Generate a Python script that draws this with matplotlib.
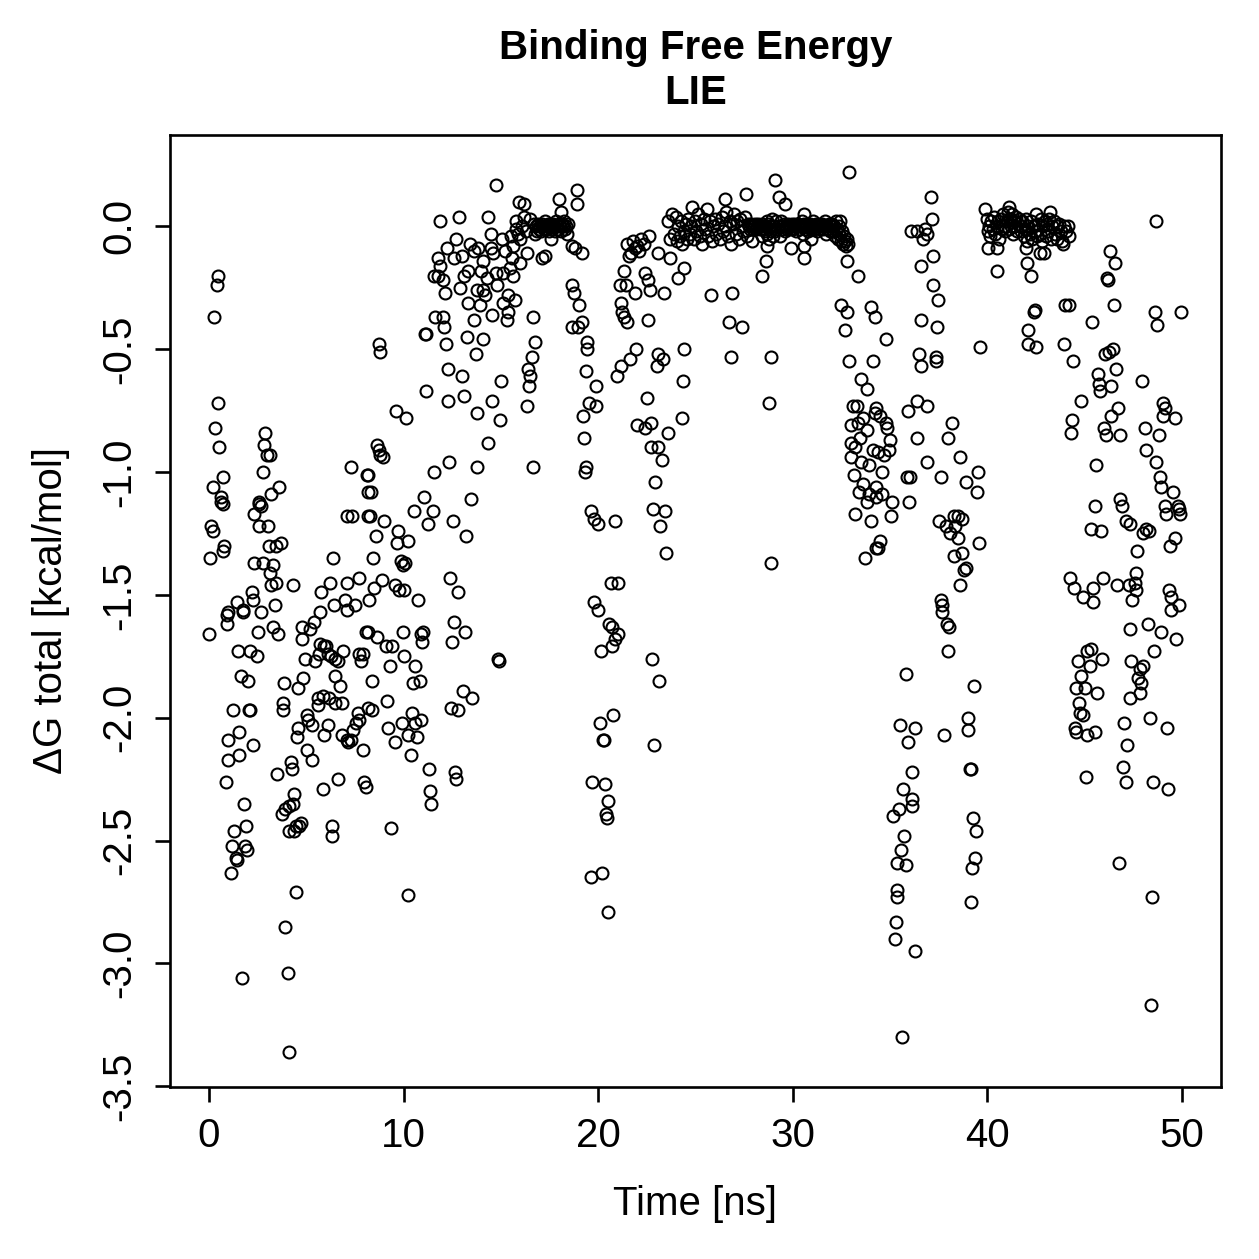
import matplotlib
matplotlib.use("Agg")
import matplotlib.pyplot as plt

plt.rcParams["font.family"] = ["Liberation Sans", "DejaVu Sans"]
plt.rcParams["axes.unicode_minus"] = False

# (time [ns], dG total [kcal/mol]), grouped by time window
seg_00_08 = [
    (0.45, -0.20), (0.4, -0.24), (0.25, -0.37), (0.45, -0.72), (0.3, -0.82), (0.5, -0.90),
    (0.7, -1.02), (0.2, -1.06), (0.6, -1.10), (0.6, -1.12), (0.7, -1.13), (0.1, -1.22),
    (0.2, -1.24), (0.8, -1.30), (0.75, -1.32), (0.05, -1.35),
    (2.9, -0.84), (2.85, -0.89), (3.0, -0.93), (3.15, -0.93), (2.8, -1.00), (3.6, -1.06),
    (3.2, -1.09), (2.55, -1.12), (2.6, -1.13), (2.7, -1.14), (2.3, -1.17), (2.6, -1.22),
    (3.05, -1.22), (3.45, -1.30), (3.7, -1.29), (3.1, -1.30),
    (7.3, -0.98), (8.1, -1.01), (7.1, -1.18), (7.35, -1.18), (8.2, -1.08), (8.2, -1.18),
    (6.4, -1.35), (2.3, -1.37), (2.8, -1.37), (3.3, -1.38), (3.15, -1.41), (4.3, -1.46),
    (6.2, -1.45), (5.75, -1.49), (7.1, -1.45), (7.7, -1.43), (7.0, -1.52), (7.5, -1.54),
    (5.7, -1.57), (1.45, -1.53), (1.0, -1.57), (1.75, -1.57), (2.2, -1.49), (2.25, -1.52),
    (3.2, -1.46), (3.45, -1.45), (3.4, -1.54), (2.7, -1.57),
    (0.95, -1.58), (1.75, -1.56), (0.0, -1.66), (0.95, -1.62), (2.5, -1.65), (3.3, -1.63),
    (3.55, -1.66), (4.8, -1.63), (5.2, -1.64), (4.8, -1.68), (5.4, -1.61), (6.45, -1.54),
    (7.1, -1.56), (1.5, -1.73), (2.1, -1.73), (2.45, -1.75), (1.65, -1.83), (2.0, -1.85),
    (3.85, -1.86), (4.6, -1.88), (4.85, -1.84), (4.95, -1.76), (5.45, -1.77), (5.65, -1.74),
    (5.9, -1.71), (6.0, -1.71), (6.1, -1.74), (6.25, -1.75), (6.5, -1.76), (6.65, -1.77),
    (6.9, -1.73), (7.7, -1.74), (7.9, -1.74), (7.8, -1.77), (6.5, -1.83), (6.75, -1.87),
    (6.5, -1.94), (6.85, -1.94), (5.6, -1.92), (5.85, -1.91), (6.15, -1.92), (5.6, -1.95),
    (3.8, -1.94), (3.8, -1.97), (1.25, -1.97), (2.05, -1.97), (2.1, -1.97), (5.05, -1.99),
    (5.1, -2.01), (5.3, -2.03), (6.1, -2.03), (4.6, -2.04), (4.55, -2.08), (5.9, -2.07),
    (6.85, -2.07), (7.1, -2.09), (7.3, -2.09), (7.4, -2.05), (7.55, -2.02), (7.7, -2.01),
    (7.65, -1.98), (7.15, -2.10), (7.9, -2.13), (1.55, -2.06), (1.0, -2.09), (2.25, -2.11),
    (1.55, -2.15), (1.0, -2.17), (5.05, -2.13), (5.3, -2.17), (3.5, -2.23), (4.2, -2.18),
    (4.25, -2.21), (5.85, -2.29), (6.65, -2.25), (7.95, -2.26), (8.05, -2.28), (0.9, -2.26),
    (1.8, -2.35), (4.35, -2.31), (4.1, -2.36), (3.9, -2.37), (3.75, -2.39), (4.3, -2.35),
    (1.3, -2.46), (1.9, -2.44), (1.2, -2.52), (1.85, -2.52), (1.95, -2.54), (1.4, -2.57),
    (1.45, -2.58), (1.15, -2.63), (4.45, -2.44), (4.35, -2.46), (4.65, -2.44), (4.75, -2.43),
    (4.1, -2.46), (6.3, -2.44), (6.35, -2.48), (4.5, -2.71), (3.9, -2.85), (1.7, -3.06),
    (4.05, -3.04), (4.1, -3.36), (8.05, -1.65), (8.15, -1.96), (5.7, -1.70),
]

seg_08_17 = [
    (14.75, 0.17), (15.95, 0.10), (16.2, 0.09), (11.85, 0.02), (12.85, 0.04), (14.35, 0.04),
    (16.2, 0.04), (15.8, 0.02), (16.1, 0.0), (14.5, -0.03), (15.05, -0.05), (15.5, -0.04),
    (15.8, -0.01), (13.4, -0.07), (12.25, -0.09), (13.0, -0.12), (13.85, -0.09), (14.5, -0.09),
    (14.6, -0.11), (14.1, -0.14), (11.75, -0.13), (11.85, -0.16), (11.75, -0.20), (11.55, -0.20),
    (12.05, -0.22), (12.15, -0.27), (13.3, -0.18), (12.9, -0.25), (13.8, -0.26), (14.1, -0.26),
    (14.2, -0.28), (13.3, -0.31), (13.95, -0.32), (14.75, -0.19), (15.1, -0.19), (15.45, -0.17),
    (15.6, -0.20), (15.35, -0.28), (15.75, -0.30), (15.1, -0.31), (15.35, -0.35), (15.3, -0.38),
    (14.55, -0.36), (13.6, -0.38), (16.0, -0.05), (16.35, -0.11), (15.55, -0.13), (11.6, -0.37),
    (12.05, -0.37), (12.1, -0.41), (16.65, -0.37), (11.1, -0.44), (11.15, -0.44), (12.2, -0.48),
    (13.25, -0.45), (14.1, -0.46), (13.7, -0.52), (16.75, -0.47), (16.6, -0.53), (16.4, -0.58),
    (16.5, -0.61), (16.45, -0.65), (16.35, -0.73), (8.75, -0.48), (8.8, -0.51), (12.3, -0.58),
    (13.0, -0.61), (11.15, -0.67), (12.3, -0.71), (13.1, -0.69), (15.0, -0.63), (14.55, -0.71),
    (13.75, -0.76), (14.95, -0.79), (9.6, -0.75), (10.15, -0.78), (14.35, -0.88), (8.65, -0.89),
    (8.75, -0.91), (8.8, -0.93), (8.95, -0.94), (12.35, -0.96), (11.55, -1.00), (13.8, -0.98),
    (16.65, -0.98), (8.2, -1.01), (8.35, -1.08), (11.05, -1.10), (13.45, -1.11), (10.55, -1.16),
    (11.5, -1.16), (11.25, -1.21), (12.55, -1.20), (13.2, -1.26), (8.3, -1.18), (9.0, -1.20),
    (8.6, -1.26), (9.7, -1.24), (9.65, -1.29), (10.25, -1.28), (8.45, -1.35), (9.85, -1.36),
    (9.95, -1.38), (10.1, -1.37), (12.4, -1.43), (12.8, -1.49), (8.9, -1.44), (8.5, -1.47),
    (9.55, -1.46), (9.75, -1.48), (10.05, -1.48), (10.75, -1.52), (8.25, -1.52),
    (12.6, -1.61), (13.15, -1.65), (12.5, -1.69), (8.2, -1.65), (8.65, -1.67), (9.95, -1.65),
    (10.9, -1.66), (11.0, -1.65), (10.95, -1.69), (9.1, -1.71), (9.4, -1.71), (10.05, -1.75),
    (9.3, -1.79), (10.6, -1.79), (8.4, -1.85), (10.5, -1.86), (10.85, -1.85), (14.85, -1.76),
    (14.9, -1.77), (9.15, -1.93), (8.4, -1.97), (13.05, -1.89), (13.5, -1.92), (12.45, -1.96),
    (12.8, -1.97), (10.45, -1.98), (9.9, -2.02), (9.2, -2.04), (10.6, -2.02), (10.9, -2.01),
    (10.25, -2.07), (10.7, -2.08), (9.55, -2.10), (10.4, -2.15), (11.3, -2.21), (12.65, -2.22),
    (12.7, -2.25), (11.35, -2.30), (11.4, -2.35), (9.35, -2.45), (10.25, -2.72),
    (12.6, -0.13), (12.7, -0.05), (13.1, -0.20), (13.6, -0.10), (14.0, -0.18), (14.3, -0.21),
    (14.8, -0.24), (15.2, -0.10), (15.6, -0.08), (15.9, -0.03), (16.0, -0.15), (16.3, -0.02),
    (16.5, 0.03), (16.7, 0.01),
]

seg_17_26 = [
    (18.9, 0.15), (18.0, 0.11), (18.1, 0.06), (18.9, 0.09), (17.1, -0.13), (17.25, -0.12),
    (17.6, -0.05), (18.65, -0.08), (18.8, -0.09), (19.15, -0.11), (18.65, -0.24), (18.75, -0.27),
    (19.0, -0.32), (19.15, -0.39), (18.65, -0.41), (18.95, -0.41), (19.45, -0.47), (19.45, -0.50),
    (19.4, -0.59), (19.9, -0.65), (19.55, -0.72), (19.9, -0.73), (19.2, -0.77), (19.25, -0.86),
    (19.35, -0.98), (19.3, -1.00), (19.65, -1.16), (19.8, -1.19), (20.0, -1.21), (20.85, -1.20),
    (20.65, -1.45), (21.0, -1.45), (19.8, -1.53), (20.0, -1.56),
    (21.5, -0.07), (22.2, -0.05), (21.9, -0.09), (21.7, -0.11), (22.0, -0.08), (23.05, -0.11),
    (23.7, -0.13), (21.35, -0.18), (21.1, -0.24), (21.45, -0.24), (21.9, -0.27), (22.4, -0.19),
    (22.55, -0.22), (22.65, -0.26), (23.4, -0.27), (24.1, -0.21), (24.4, -0.17), (21.15, -0.31),
    (21.2, -0.35), (21.35, -0.37), (21.5, -0.39), (22.55, -0.38), (21.95, -0.50), (21.65, -0.54),
    (21.15, -0.57), (20.95, -0.61), (23.05, -0.52), (23.35, -0.54), (23.0, -0.57), (24.4, -0.50),
    (24.35, -0.63), (22.5, -0.70), (22.0, -0.81), (22.4, -0.82), (22.7, -0.80), (23.6, -0.84),
    (24.3, -0.78), (22.7, -0.90), (23.05, -0.90), (23.3, -0.95), (22.9, -1.04), (22.8, -1.15),
    (23.45, -1.16), (23.2, -1.22), (23.5, -1.33),
    (20.55, -1.62), (20.7, -1.63), (21.0, -1.66), (20.85, -1.68), (20.7, -1.71), (20.15, -1.73),
    (22.75, -1.76), (23.15, -1.85), (20.75, -1.99), (20.1, -2.02), (20.25, -2.09), (20.3, -2.09),
    (22.85, -2.11), (19.7, -2.26), (20.35, -2.27), (20.5, -2.34), (20.4, -2.39), (20.45, -2.41),
    (19.65, -2.65), (20.2, -2.63), (20.5, -2.79),
    (21.8, -0.06), (22.1, -0.10), (22.35, -0.07), (22.6, -0.04), (21.6, -0.12),
]

seg_26_34 = [
    (32.9, 0.22), (29.1, 0.19), (27.6, 0.13), (26.5, 0.11), (29.3, 0.12), (29.6, 0.09),
    (30.6, 0.05), (28.4, -0.20), (28.6, -0.14), (25.8, -0.28), (26.9, -0.27), (26.7, -0.39),
    (27.4, -0.41), (26.8, -0.53), (28.9, -0.53), (28.8, -0.72), (28.9, -1.37), (32.8, -0.14),
    (33.35, -0.20), (32.5, -0.32), (32.8, -0.35), (32.7, -0.42), (34.0, -0.33), (34.2, -0.37),
    (32.9, -0.55), (34.1, -0.55), (33.5, -0.62), (33.8, -0.66), (33.3, -0.73), (33.0, -0.81),
    (33.0, -0.88), (33.5, -0.96), (33.9, -0.97), (34.1, -0.91), (33.8, -0.83), (34.2, -0.76),
    (33.4, -1.08), (33.8, -1.12), (33.2, -1.17), (34.3, -1.10), (33.7, -1.35), (34.3, -1.31),
    (30.6, -0.13), (29.9, -0.09), (30.6, -0.08), (30.95, -0.05), (28.7, -0.08), (28.4, -0.04),
    (27.9, -0.06), (33.1, -0.73), (33.35, -0.80), (33.6, -0.78), (33.2, -0.90), (33.45, -0.86),
    (33.15, -1.01), (33.6, -1.05), (33.9, -1.09), (34.0, -1.20), (33.0, -0.94),
]

seg_34_44 = [
    (37.1, 0.12), (37.15, 0.03), (36.05, -0.02), (36.4, -0.02), (36.8, -0.01), (36.7, -0.05),
    (36.9, -0.03), (37.2, -0.12), (36.6, -0.16), (37.2, -0.24), (37.45, -0.30), (36.6, -0.38),
    (37.4, -0.41), (34.8, -0.46), (36.5, -0.52), (36.6, -0.57), (37.35, -0.53), (37.35, -0.55),
    (39.6, -0.49), (40.5, -0.09), (40.5, -0.18), (40.05, -0.09), (42.0, -0.09), (42.05, -0.15),
    (42.25, -0.20), (42.7, -0.11), (42.4, -0.35), (42.45, -0.34), (42.1, -0.42), (42.1, -0.48),
    (42.5, -0.49), (39.9, 0.07), (41.1, 0.08), (43.2, 0.06), (43.9, -0.07), (42.9, -0.11),
    (36.4, -0.71), (35.9, -0.75), (36.9, -0.73), (38.2, -0.80), (37.95, -0.86), (36.4, -0.86),
    (38.6, -0.94), (36.9, -0.96), (39.5, -1.00), (36.0, -1.02), (37.6, -1.02), (38.9, -1.04),
    (39.45, -1.08), (35.95, -1.12), (37.5, -1.20), (38.3, -1.18), (38.7, -1.19), (38.5, -1.18),
    (37.85, -1.22), (38.35, -1.22), (38.1, -1.25), (38.5, -1.27), (39.55, -1.29), (38.3, -1.34),
    (38.7, -1.33), (38.9, -1.39), (38.8, -1.40), (38.6, -1.46), (37.6, -1.52), (37.65, -1.54),
    (37.65, -1.57),
    (34.3, -0.74), (34.5, -0.77), (34.8, -0.80), (34.85, -0.82), (35.0, -0.87), (34.95, -0.91),
    (34.4, -0.92), (34.7, -0.93), (34.6, -1.00), (34.3, -1.06), (34.6, -1.09), (35.1, -1.12),
    (35.05, -1.18), (34.5, -1.28), (34.4, -1.31), (35.85, -1.02),
    (37.9, -1.62), (38.05, -1.63), (38.0, -1.73), (35.8, -1.82), (39.3, -1.87), (39.0, -2.00),
    (39.0, -2.05), (35.5, -2.03), (36.3, -2.04), (35.9, -2.10), (37.75, -2.07), (39.1, -2.21),
    (39.15, -2.21), (36.1, -2.22), (35.65, -2.29), (36.15, -2.33), (35.45, -2.37), (36.15, -2.36),
    (35.15, -2.40), (35.7, -2.48), (35.55, -2.54), (35.35, -2.59), (35.8, -2.60), (39.25, -2.41),
    (39.4, -2.46), (39.35, -2.57), (39.2, -2.61), (35.35, -2.70), (35.35, -2.73), (39.15, -2.75),
    (35.3, -2.83), (35.25, -2.90), (36.3, -2.95), (35.6, -3.30),
]

seg_44_50 = [
    (48.65, 0.02), (46.3, -0.10), (46.55, -0.15), (46.15, -0.21), (46.2, -0.22), (46.5, -0.32),
    (44.0, -0.32), (44.2, -0.32), (48.6, -0.35), (49.95, -0.35), (48.7, -0.40), (45.35, -0.39),
    (43.95, -0.48), (44.4, -0.55), (46.45, -0.50), (46.05, -0.52), (46.25, -0.51), (45.7, -0.60),
    (46.6, -0.58), (45.75, -0.64), (46.35, -0.65), (45.8, -0.67), (47.95, -0.63), (44.8, -0.71),
    (46.7, -0.74), (46.35, -0.77), (49.0, -0.72), (49.1, -0.74), (49.0, -0.77), (49.65, -0.78),
    (44.35, -0.79), (44.3, -0.84), (46.0, -0.82), (46.1, -0.85), (46.8, -0.85), (48.1, -0.82),
    (48.8, -0.85), (48.15, -0.91), (48.65, -0.96), (45.6, -0.97), (48.85, -1.02), (48.9, -1.06),
    (49.55, -1.08), (45.55, -1.14), (46.8, -1.11), (46.9, -1.14), (49.1, -1.14), (49.2, -1.17),
    (49.8, -1.14), (49.85, -1.15), (49.9, -1.17), (45.3, -1.23), (45.85, -1.24), (47.1, -1.20),
    (47.35, -1.21), (48.15, -1.23), (48.3, -1.24), (48.0, -1.25), (49.65, -1.27), (49.4, -1.30),
    (47.7, -1.32), (44.25, -1.43), (44.45, -1.47), (44.9, -1.51), (45.4, -1.53), (45.45, -1.47),
    (45.95, -1.43), (46.65, -1.46), (47.25, -1.46), (47.65, -1.41), (47.6, -1.45), (47.65, -1.48),
    (47.45, -1.52), (49.35, -1.48), (49.45, -1.51), (49.85, -1.54), (49.45, -1.56),
    (47.35, -1.64), (48.25, -1.62), (48.9, -1.65), (49.7, -1.68), (45.3, -1.72), (45.1, -1.73),
    (45.9, -1.76), (44.65, -1.77), (45.25, -1.79), (48.55, -1.73), (47.4, -1.77), (48.0, -1.79),
    (47.85, -1.80), (44.8, -1.83), (47.75, -1.84), (47.9, -1.86), (44.55, -1.88), (45.0, -1.88),
    (45.65, -1.90), (47.85, -1.90), (47.3, -1.92), (44.7, -1.94), (44.75, -1.98), (44.9, -1.99),
    (47.0, -2.02), (48.35, -2.00), (49.25, -2.04), (44.5, -2.04), (44.55, -2.06), (45.1, -2.07),
    (45.55, -2.06), (47.15, -2.11), (46.95, -2.20), (47.1, -2.26), (45.05, -2.24), (48.5, -2.26),
    (49.3, -2.29), (46.75, -2.59), (48.45, -2.73), (48.4, -3.17),
]

# the dense runs sitting right on dG ~ 0
band_17 = [
    (16.75, -0.03), (16.8, 0.0), (16.85, -0.02), (16.9, 0.01), (16.95, -0.01), (17.0, 0.0),
    (17.05, -0.02), (17.1, 0.01), (17.15, 0.0), (17.2, -0.01), (17.25, 0.02), (17.3, 0.0),
    (17.35, -0.01), (17.4, 0.01), (17.45, 0.0), (17.5, -0.02), (17.55, 0.01), (17.6, 0.0),
    (17.65, -0.01), (17.7, 0.01), (17.75, 0.0), (17.8, -0.02), (17.85, 0.02), (17.9, 0.0),
    (17.95, -0.01), (18.0, 0.01), (18.05, 0.0), (18.1, -0.02), (18.15, 0.01), (18.2, 0.0),
    (18.25, 0.02), (18.3, -0.01), (18.35, 0.0), (18.4, -0.03), (18.45, 0.01),
]

band_24 = [
    (23.6, 0.02), (23.7, -0.05), (23.8, 0.05), (23.9, -0.03), (24.0, 0.04), (24.05, -0.06),
    (24.1, 0.0), (24.2, -0.04), (24.25, 0.02), (24.3, -0.07), (24.4, -0.02), (24.5, 0.01),
    (24.55, -0.05), (24.6, 0.03), (24.7, -0.03), (24.75, 0.0), (24.8, 0.08), (24.9, -0.05),
    (25.0, 0.02), (25.05, -0.02), (25.15, 0.05), (25.25, -0.04), (25.3, 0.01), (25.35, -0.07),
    (25.45, 0.03), (25.5, -0.01), (25.6, 0.07), (25.65, -0.04), (25.75, 0.02), (25.85, -0.06),
    (25.9, 0.0), (26.0, 0.03), (26.05, -0.03), (26.15, 0.01), (26.25, -0.05), (26.35, 0.04),
    (26.4, -0.02), (26.5, 0.0), (26.55, 0.06), (26.65, -0.04), (26.75, 0.02), (26.85, -0.07),
    (26.95, 0.01), (27.0, 0.05), (27.1, -0.03), (27.15, 0.02), (27.25, -0.05), (27.3, 0.03),
    (27.4, 0.0), (27.45, -0.02), (27.55, 0.04), (27.65, -0.04), (27.7, 0.01),
    (27.75, 0.0), (27.8, -0.01), (27.85, 0.01), (27.9, 0.0), (27.95, -0.01), (28.0, 0.0),
    (28.05, 0.01), (28.1, -0.01), (28.15, 0.0), (28.2, 0.01), (28.25, 0.0), (28.3, -0.01),
    (28.35, 0.0), (28.4, 0.01), (28.45, -0.01), (28.5, 0.0), (28.55, -0.02), (28.6, 0.0),
    (28.65, 0.02), (28.7, -0.03), (28.75, 0.01), (28.8, -0.05), (28.85, 0.0), (28.9, -0.02),
    (28.95, 0.03), (29.0, -0.04), (29.05, 0.0), (29.1, -0.02), (29.15, 0.02), (29.2, -0.01),
    (29.3, 0.0), (29.35, -0.04), (29.4, 0.02), (29.45, -0.01), (29.5, 0.0), (29.55, 0.01),
    (29.6, -0.02), (29.65, 0.0), (29.7, -0.01), (29.75, 0.01), (29.8, 0.0), (29.85, -0.01),
    (29.9, 0.0), (29.95, 0.01), (30.0, -0.01), (30.05, 0.0), (30.1, 0.01), (30.15, -0.02),
    (30.2, 0.0), (30.25, 0.01), (30.3, 0.0), (30.35, -0.01), (30.4, 0.0), (30.45, 0.02),
    (30.5, -0.03), (30.55, 0.0), (30.6, 0.01), (30.65, -0.01), (30.7, 0.0), (30.75, 0.01),
    (30.8, -0.02), (30.85, 0.0), (30.9, 0.01), (30.95, -0.01), (31.0, 0.0), (31.05, 0.02),
    (31.1, -0.01), (31.15, 0.0), (31.2, 0.01), (31.25, -0.02), (31.3, 0.0), (31.35, 0.01),
    (31.4, -0.01), (31.45, 0.0), (31.5, 0.01), (31.55, -0.01), (31.6, 0.0), (31.65, 0.02),
    (31.7, -0.03), (31.75, 0.0), (31.8, -0.01), (31.85, 0.01), (31.9, -0.02), (31.95, 0.0),
    (32.0, 0.01), (32.05, -0.02), (32.1, 0.0), (32.15, -0.04), (32.2, 0.02), (32.25, -0.01),
    (32.3, -0.05), (32.35, 0.0), (32.4, -0.03), (32.45, 0.02), (32.5, -0.06), (32.55, -0.02),
    (32.6, -0.07), (32.65, -0.04), (32.7, -0.06), (32.75, -0.08), (32.8, -0.05), (32.85, -0.07),
]

band_41 = [
    (40.0, 0.03), (40.05, -0.02), (40.1, 0.0), (40.15, -0.04), (40.2, 0.02), (40.3, -0.01),
    (40.35, 0.04), (40.4, -0.03), (40.5, 0.0), (40.55, 0.02), (40.6, -0.05), (40.7, 0.03),
    (40.75, -0.01), (40.8, 0.05), (40.85, 0.0), (40.9, -0.02), (41.0, 0.02), (41.05, 0.06),
    (41.1, -0.01), (41.15, 0.03), (41.2, 0.0), (41.25, 0.05), (41.3, -0.03), (41.35, 0.02),
    (41.4, 0.0), (41.45, 0.04), (41.5, -0.02), (41.55, 0.01), (41.6, 0.03), (41.7, -0.02),
    (41.75, 0.0), (41.8, 0.02), (41.9, -0.04), (41.95, -0.01), (42.0, 0.03), (42.05, -0.06),
    (42.1, 0.0), (42.2, -0.03), (42.25, 0.02), (42.3, -0.05), (42.4, 0.0), (42.45, -0.02),
    (42.5, 0.05), (42.55, -0.04), (42.6, 0.01), (42.7, -0.03), (42.75, 0.03), (42.8, -0.06),
    (42.85, 0.0), (42.95, 0.02), (43.0, -0.04), (43.05, 0.01), (43.1, -0.02), (43.15, 0.03),
    (43.25, -0.05), (43.3, 0.0), (43.4, 0.02), (43.45, -0.03), (43.55, 0.0), (43.6, -0.05),
    (43.7, 0.01), (43.8, -0.02), (43.85, -0.06), (43.95, 0.0), (44.05, -0.02), (44.15, 0.0),
    (44.2, -0.04),
]

x_ticks = [0, 10, 20, 30, 40, 50]
y_ticks = [-3.5, -3.0, -2.5, -2.0, -1.5, -1.0, -0.5, 0.0]

all_points = seg_00_08 + seg_08_17 + seg_17_26 + seg_26_34 + seg_34_44 + seg_44_50 \
    + band_17 + band_24 + band_41
time_ns = [p[0] for p in all_points]
dg_total = [p[1] for p in all_points]

fig = plt.figure(figsize=(12.59, 12.59), dpi=100)
ax = fig.add_axes([0.135, 0.1366, 0.8348, 0.7562])

ax.plot(time_ns, dg_total, linestyle="none", marker="o", markersize=8.6,
        markerfacecolor="none", markeredgecolor="black", markeredgewidth=1.5)

ax.set_xlim(-2, 52)
ax.set_ylim(-3.503, 0.372)
ax.set_xticks(x_ticks)
ax.set_yticks(y_ticks)
ax.set_xticklabels([str(v) for v in x_ticks])
ax.set_yticklabels(["%.1f" % v for v in y_ticks], rotation=90, va="center")

for s in ax.spines.values():
    s.set_linewidth(1.9)
ax.tick_params(direction="out", length=10.5, width=1.9, labelsize=29)
ax.tick_params(axis="x", pad=11)
ax.tick_params(axis="y", pad=12)

ax.set_xlabel("Time [ns]", fontsize=29, labelpad=22)
ax.set_ylabel("\u0394G total [kcal/mol]", fontsize=29, labelpad=22)
ax.set_title("Binding Free Energy\nLIE", fontsize=29, fontweight="bold",
             linespacing=1.25, pad=22)

fig.savefig("out.png", dpi=100)
